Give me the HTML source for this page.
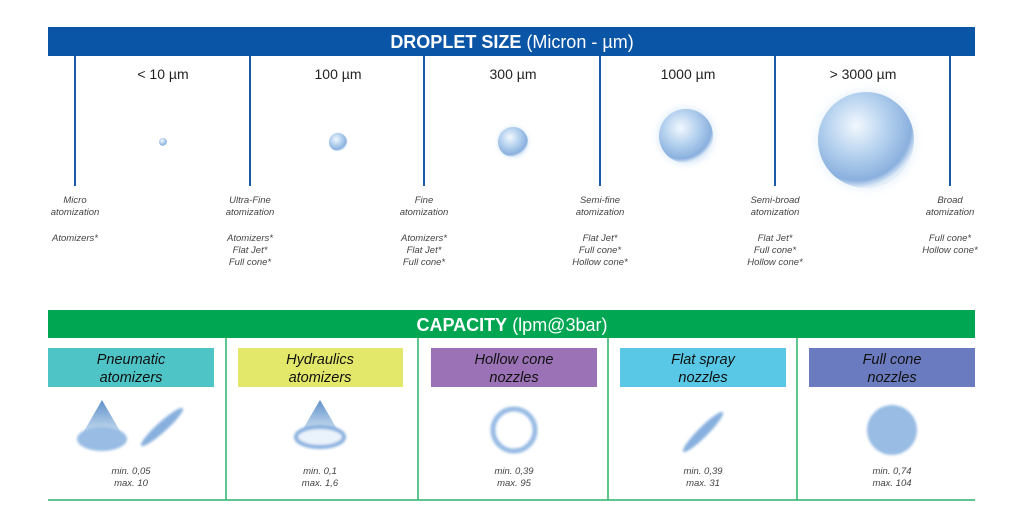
<!DOCTYPE html>
<html><head><meta charset="utf-8"><style>
body{margin:0;background:#fff;width:1024px;height:527px;overflow:hidden}
svg{display:block}
text{font-family:"Liberation Sans",Arial,sans-serif}
.s{font-size:9.5px;font-style:italic;fill:#444;text-anchor:middle}
.u{font-size:14px;fill:#222;text-anchor:middle}
.h{font-size:14.5px;font-style:italic;fill:#111;text-anchor:middle}
.m{font-size:9.5px;font-style:italic;fill:#444;text-anchor:middle}
</style></head><body>
<svg width="1024" height="527" viewBox="0 0 1024 527">
<defs>
<radialGradient id="b" cx="40%" cy="35%" r="65%">
<stop offset="0" stop-color="#f2f8fe"/><stop offset="0.5" stop-color="#b3d0ee"/><stop offset="0.88" stop-color="#8ab0de"/><stop offset="1" stop-color="#e3eef9"/></radialGradient>
<radialGradient id="g"><stop offset="0.6" stop-color="#c2ddf6" stop-opacity="0.9"/><stop offset="1" stop-color="#fff" stop-opacity="0"/></radialGradient>
<linearGradient id="cone" x1="0" y1="0" x2="0" y2="1"><stop offset="0" stop-color="#5d90c9"/><stop offset="1" stop-color="#d9e8f6"/></linearGradient>
<filter id="f" x="-20%" y="-20%" width="140%" height="140%"><feGaussianBlur stdDeviation="1.2"/></filter>
</defs>
<rect x="48" y="27" width="927" height="29" fill="#0a55a6"/>
<text x="512" y="48" font-size="18" fill="#fff" text-anchor="middle"><tspan font-weight="bold">DROPLET SIZE</tspan> (Micron - µm)</text>
<g stroke="#1a5aa8" stroke-width="2">
<line x1="75" y1="56" x2="75" y2="186"/><line x1="250" y1="56" x2="250" y2="186"/><line x1="424" y1="56" x2="424" y2="186"/><line x1="600" y1="56" x2="600" y2="186"/><line x1="775" y1="56" x2="775" y2="186"/><line x1="950" y1="56" x2="950" y2="186"/></g>
<text class="u" x="163" y="79">&lt; 10 µm</text><text class="u" x="338" y="79">100 µm</text><text class="u" x="513" y="79">300 µm</text><text class="u" x="688" y="79">1000 µm</text><text class="u" x="863" y="79">&gt; 3000 µm</text>
<circle cx="163" cy="142" r="4" fill="url(#b)"/>
<circle cx="338" cy="142" r="11" fill="url(#g)"/><circle cx="338" cy="142" r="9" fill="url(#b)"/>
<circle cx="513" cy="142" r="20" fill="url(#g)"/><circle cx="513" cy="142" r="15" fill="url(#b)"/>
<circle cx="686" cy="136" r="36" fill="url(#g)"/><circle cx="686" cy="136" r="27" fill="url(#b)"/>
<circle cx="866" cy="140" r="60" fill="url(#g)"/><circle cx="866" cy="140" r="48" fill="url(#b)"/>
<text class="s" x="75" y="203">Micro</text><text class="s" x="75" y="215">atomization</text><text class="s" x="75" y="241">Atomizers*</text>
<text class="s" x="250" y="203">Ultra-Fine</text><text class="s" x="250" y="215">atomization</text><text class="s" x="250" y="241">Atomizers*</text><text class="s" x="250" y="253">Flat Jet*</text><text class="s" x="250" y="265">Full cone*</text>
<text class="s" x="424" y="203">Fine</text><text class="s" x="424" y="215">atomization</text><text class="s" x="424" y="241">Atomizers*</text><text class="s" x="424" y="253">Flat Jet*</text><text class="s" x="424" y="265">Full cone*</text>
<text class="s" x="600" y="203">Semi-fine</text><text class="s" x="600" y="215">atomization</text><text class="s" x="600" y="241">Flat Jet*</text><text class="s" x="600" y="253">Full cone*</text><text class="s" x="600" y="265">Hollow cone*</text>
<text class="s" x="775" y="203">Semi-broad</text><text class="s" x="775" y="215">atomization</text><text class="s" x="775" y="241">Flat Jet*</text><text class="s" x="775" y="253">Full cone*</text><text class="s" x="775" y="265">Hollow cone*</text>
<text class="s" x="950" y="203">Broad</text><text class="s" x="950" y="215">atomization</text><text class="s" x="950" y="241">Full cone*</text><text class="s" x="950" y="253">Hollow cone*</text>
<rect x="48" y="310" width="927" height="28" fill="#00a651"/>
<text x="512" y="331" font-size="18" fill="#fff" text-anchor="middle"><tspan font-weight="bold">CAPACITY</tspan> (lpm@3bar)</text>
<g stroke="#2bb36b" stroke-width="1.5"><line x1="226" y1="338" x2="226" y2="500"/><line x1="418" y1="338" x2="418" y2="500"/><line x1="608" y1="338" x2="608" y2="500"/><line x1="797" y1="338" x2="797" y2="500"/><line x1="48" y1="500" x2="975" y2="500"/></g>
<rect x="48" y="348" width="166" height="39" fill="#4fc4c6"/>
<rect x="238" y="348" width="165" height="39" fill="#e3e86a"/>
<rect x="431" y="348" width="166" height="39" fill="#9b72b5"/>
<rect x="620" y="348" width="166" height="39" fill="#58c8e6"/>
<rect x="809" y="348" width="166" height="39" fill="#6b7bbf"/>
<text class="h" x="131" y="364">Pneumatic</text><text class="h" x="131" y="382">atomizers</text>
<text class="h" x="320" y="364">Hydraulics</text><text class="h" x="320" y="382">atomizers</text>
<text class="h" x="514" y="364">Hollow cone</text><text class="h" x="514" y="382">nozzles</text>
<text class="h" x="703" y="364">Flat spray</text><text class="h" x="703" y="382">nozzles</text>
<text class="h" x="892" y="364">Full cone</text><text class="h" x="892" y="382">nozzles</text>
<polygon points="102,400 80,438 124,438" fill="url(#cone)"/>
<ellipse cx="102" cy="439" rx="25" ry="12" fill="#98bce4" filter="url(#f)"/>
<ellipse cx="162" cy="427" rx="28" ry="5" transform="rotate(-42 162 427)" fill="#88b0de" filter="url(#f)"/>
<polygon points="320,400 300,434 340,434" fill="url(#cone)"/>
<ellipse cx="320" cy="437" rx="24" ry="10" fill="#eaf2fb" stroke="#88b0de" stroke-width="4" filter="url(#f)"/>
<circle cx="514" cy="430" r="21" fill="none" stroke="#98bce4" stroke-width="5" filter="url(#f)"/>
<ellipse cx="703" cy="432" rx="28" ry="5" transform="rotate(-45 703 432)" fill="#88b0de" filter="url(#f)"/>
<circle cx="892" cy="430" r="25" fill="#98bce4" filter="url(#f)"/>
<text class="m" x="131" y="474">min. 0,05</text><text class="m" x="131" y="486">max. 10</text>
<text class="m" x="320" y="474">min. 0,1</text><text class="m" x="320" y="486">max. 1,6</text>
<text class="m" x="514" y="474">min. 0,39</text><text class="m" x="514" y="486">max. 95</text>
<text class="m" x="703" y="474">min. 0,39</text><text class="m" x="703" y="486">max. 31</text>
<text class="m" x="892" y="474">min. 0,74</text><text class="m" x="892" y="486">max. 104</text>
</svg>
</body></html>
